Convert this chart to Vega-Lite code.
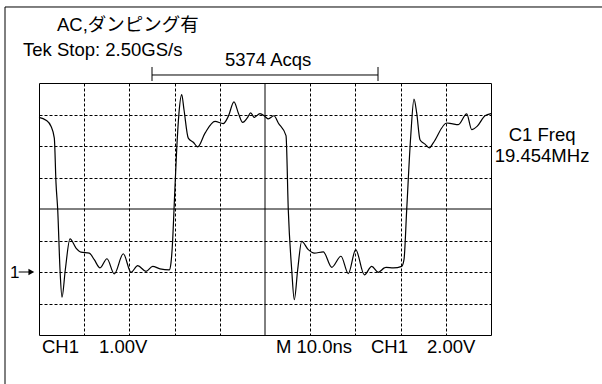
{
  "$schema": "https://vega.github.io/schema/vega-lite/v6.json",
  "width": 452,
  "height": 252,
  "autosize": {"type": "none"},
  "padding": {"left": 39, "top": 83, "right": 111, "bottom": 49},
  "background": "#ffffff",
  "config": {
    "view": {"stroke": "#000000", "strokeWidth": 1},
    "text": {"font": "Liberation Sans, Arial, Noto Sans CJK JP", "fontSize": 18.5, "color": "#000000"}
  },
  "datasets": {
    "wave": [
      {"t": 0.0, "v": 2.91}, {"t": 0.155, "v": 2.82}, {"t": 0.265, "v": 2.63}, {"t": 0.339, "v": 2.25},
      {"t": 0.376, "v": 0.83}, {"t": 0.414, "v": -0.02}, {"t": 0.465, "v": -1.93}, {"t": 0.509, "v": -2.8},
      {"t": 0.582, "v": -1.93}, {"t": 0.686, "v": -0.95}, {"t": 0.819, "v": -1.24}, {"t": 0.929, "v": -1.37},
      {"t": 1.113, "v": -1.4}, {"t": 1.223, "v": -1.61}, {"t": 1.35, "v": -1.87}, {"t": 1.504, "v": -1.58},
      {"t": 1.666, "v": -2.06}, {"t": 1.865, "v": -1.42}, {"t": 2.035, "v": -2.01}, {"t": 2.184, "v": -1.8},
      {"t": 2.367, "v": -1.98}, {"t": 2.515, "v": -1.82}, {"t": 2.677, "v": -1.9}, {"t": 2.883, "v": -1.93},
      {"t": 2.92, "v": -1.71}, {"t": 2.958, "v": -0.97}, {"t": 2.987, "v": -0.02}, {"t": 3.046, "v": 1.88},
      {"t": 3.097, "v": 3.05}, {"t": 3.157, "v": 3.63}, {"t": 3.208, "v": 3.15}, {"t": 3.303, "v": 2.25},
      {"t": 3.414, "v": 2.12}, {"t": 3.511, "v": 1.97}, {"t": 3.673, "v": 2.41}, {"t": 3.894, "v": 2.78},
      {"t": 4.077, "v": 2.71}, {"t": 4.188, "v": 2.94}, {"t": 4.314, "v": 3.4}, {"t": 4.409, "v": 3.05},
      {"t": 4.507, "v": 2.75}, {"t": 4.608, "v": 2.89}, {"t": 4.684, "v": 3.05}, {"t": 4.763, "v": 2.91},
      {"t": 4.889, "v": 3.03}, {"t": 5.0, "v": 2.94}, {"t": 5.073, "v": 2.86}, {"t": 5.199, "v": 2.96},
      {"t": 5.294, "v": 2.73}, {"t": 5.465, "v": 2.33}, {"t": 5.515, "v": -0.02}, {"t": 5.591, "v": -1.93},
      {"t": 5.648, "v": -2.88}, {"t": 5.723, "v": -1.93}, {"t": 5.812, "v": -1.03}, {"t": 5.958, "v": -1.29},
      {"t": 6.091, "v": -1.4}, {"t": 6.29, "v": -1.36}, {"t": 6.476, "v": -1.85}, {"t": 6.681, "v": -1.5},
      {"t": 6.843, "v": -2.05}, {"t": 7.007, "v": -1.29}, {"t": 7.197, "v": -2.09}, {"t": 7.361, "v": -1.82},
      {"t": 7.507, "v": -2.01}, {"t": 7.639, "v": -1.87}, {"t": 7.677, "v": -1.85}, {"t": 7.839, "v": -1.87},
      {"t": 8.024, "v": -1.82}, {"t": 8.075, "v": -1.61}, {"t": 8.135, "v": -0.02}, {"t": 8.224, "v": 2.31},
      {"t": 8.296, "v": 3.49}, {"t": 8.356, "v": 3.05}, {"t": 8.429, "v": 2.2}, {"t": 8.54, "v": 2.06},
      {"t": 8.635, "v": 1.94}, {"t": 8.723, "v": 2.1}, {"t": 9.02, "v": 2.73}, {"t": 9.13, "v": 2.71},
      {"t": 9.277, "v": 2.68}, {"t": 9.462, "v": 3.02}, {"t": 9.573, "v": 2.52}, {"t": 9.697, "v": 2.63},
      {"t": 9.867, "v": 2.96}, {"t": 10.0, "v": 3.03}
    ],
    "lines": [
      {"name": "center-v", "x": 5, "x2": 5, "y": -4, "y2": 4},
      {"name": "center-h", "x": 0, "x2": 10, "y": 0, "y2": 0},
      {"name": "frame-top", "x": -0.752, "x2": 12.46, "y": 6.413, "y2": 6.413},
      {"name": "frame-left", "x": -0.752, "x2": -0.752, "y": 6.413, "y2": -5.6},
      {"name": "bracket", "x": 2.5, "x2": 7.5, "y": 4.254, "y2": 4.254},
      {"name": "bracket-l", "x": 2.5, "x2": 2.5, "y": 4.508, "y2": 4.063},
      {"name": "bracket-r", "x": 7.5, "x2": 7.5, "y": 4.508, "y2": 4.063},
      {"name": "marker", "x": -0.45, "x2": -0.22, "y": -2, "y2": -2}
    ],
    "labelsLeft": [
      {"text": "AC,ダンピング有", "x": 0.398, "y": 5.65},
      {"text": "Tek Stop: 2.50GS/s", "x": -0.354, "y": 4.87},
      {"text": "CH1", "x": 0.066, "y": -4.57},
      {"text": "1.00V", "x": 1.327, "y": -4.57},
      {"text": "M 10.0ns", "x": 5.243, "y": -4.57},
      {"text": "CH1", "x": 7.345, "y": -4.57},
      {"text": "2.00V", "x": 8.584, "y": -4.57}
    ],
    "labelsCenter": [
      {"text": "5374 Acqs", "x": 5.07, "y": 4.54},
      {"text": "C1 Freq", "x": 11.13, "y": 2.16},
      {"text": "19.454MHz", "x": 11.13, "y": 1.5}
    ],
    "channel": [{"text": "1", "x": -0.64, "y": -2.19}],
    "arrow": [{"x": -0.17, "y": -2}]
  },
  "layer": [
    {
      "data": {"name": "wave"},
      "mark": {"type": "line", "color": "#000000", "strokeWidth": 1.2, "interpolate": "monotone", "clip": false},
      "encoding": {
        "x": {"field": "t", "type": "quantitative",
              "scale": {"domain": [0, 10], "nice": false, "zero": false},
              "axis": {"values": [1, 2, 3, 4, 6, 7, 8, 9], "grid": true, "gridDash": [3, 2], "gridColor": "#000000", "gridOpacity": 1, "gridWidth": 1,
                       "labels": false, "ticks": false, "domain": false, "title": null}},
        "y": {"field": "v", "type": "quantitative",
              "scale": {"domain": [-4, 4], "nice": false, "zero": false},
              "axis": {"values": [-3, -2, -1, 1, 2, 3], "grid": true, "gridDash": [3, 2], "gridColor": "#000000", "gridOpacity": 1, "gridWidth": 1,
                       "labels": false, "ticks": false, "domain": false, "title": null}}
      }
    },
    {
      "data": {"name": "lines"},
      "mark": {"type": "rule", "color": "#000000", "strokeWidth": 1, "clip": false},
      "encoding": {
        "x": {"field": "x", "type": "quantitative"},
        "x2": {"field": "x2"},
        "y": {"field": "y", "type": "quantitative"},
        "y2": {"field": "y2"}
      }
    },
    {
      "data": {"name": "arrow"},
      "mark": {"type": "point", "shape": "triangle-right", "filled": true, "color": "#000000", "size": 45, "opacity": 1, "clip": false},
      "encoding": {
        "x": {"field": "x", "type": "quantitative"},
        "y": {"field": "y", "type": "quantitative"}
      }
    },
    {
      "data": {"name": "labelsLeft"},
      "mark": {"type": "text", "align": "left", "baseline": "alphabetic", "clip": false},
      "encoding": {
        "x": {"field": "x", "type": "quantitative"},
        "y": {"field": "y", "type": "quantitative"},
        "text": {"field": "text"}
      }
    },
    {
      "data": {"name": "channel"},
      "mark": {"type": "text", "align": "left", "baseline": "alphabetic", "fontSize": 17, "clip": false},
      "encoding": {
        "x": {"field": "x", "type": "quantitative"},
        "y": {"field": "y", "type": "quantitative"},
        "text": {"field": "text"}
      }
    },
    {
      "data": {"name": "labelsCenter"},
      "mark": {"type": "text", "align": "center", "baseline": "alphabetic", "clip": false},
      "encoding": {
        "x": {"field": "x", "type": "quantitative"},
        "y": {"field": "y", "type": "quantitative"},
        "text": {"field": "text"}
      }
    }
  ]
}
